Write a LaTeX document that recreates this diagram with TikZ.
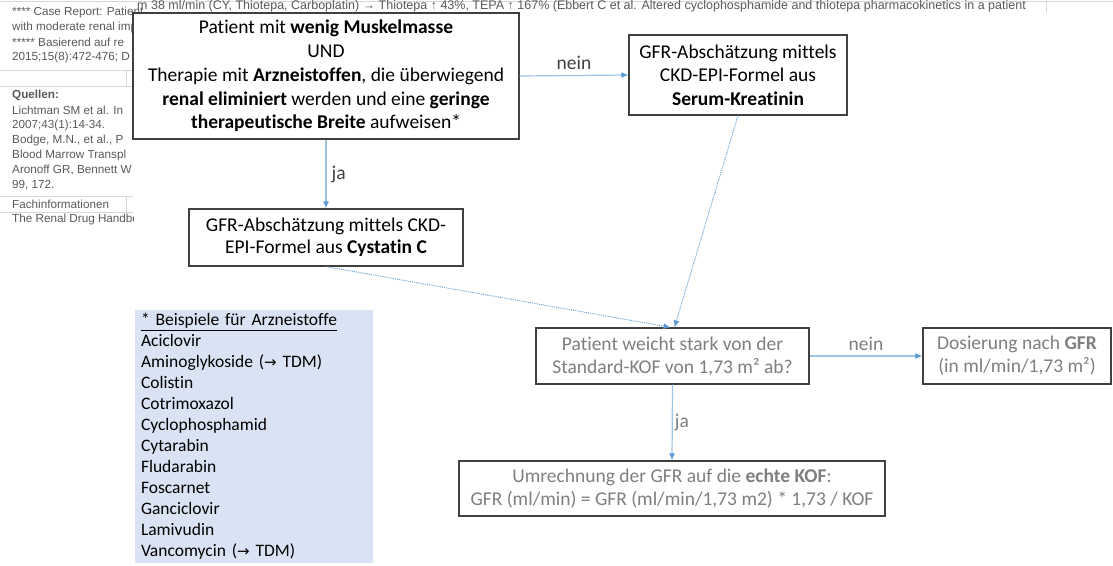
\documentclass[tikz,border=0pt]{standalone}
\usepackage{fontspec}
\setmainfont{Carlito}[Ligatures=NoCommon]
\newfontfamily\snipfont{Liberation Sans}
\newfontfamily\arrowfont{DejaVu Sans}
\usepackage{xcolor}
\usepackage{tikz}
\usetikzlibrary{arrows.meta}
\definecolor{boxgray}{HTML}{404040}
\definecolor{textgray}{HTML}{7F7F7F}
\definecolor{lineblue}{HTML}{9DC3E6}
\definecolor{tipblue}{HTML}{5B9BD5}
\definecolor{notefill}{HTML}{DAE3F3}
\definecolor{snipgray}{HTML}{5A5A5A}
\definecolor{gridgray}{HTML}{D6D6D6}
\tikzstyle{box} = [draw=boxgray,line width=1.3pt,fill=white,align=center,inner sep=0pt,font=\fontsize{19.5}{23.5}\selectfont]
\tikzstyle{pale} = [text=textgray]
\tikzstyle{flow} = [draw=lineblue,line width=1.2pt,-{Latex[length=7pt,width=6pt,color=tipblue]}]
\tikzstyle{guess} = [draw=tipblue,line width=0.9pt,densely dotted,-{Latex[length=7pt,width=6pt]}]
\tikzstyle{answer} = [font=\fontsize{19.5}{23.5}\selectfont,inner sep=2pt]
\tikzstyle{frag} = [anchor=west,inner sep=0pt,text=snipgray,font=\snipfont\fontsize{11.7}{14}\selectfont]

\begin{document}
\begin{tikzpicture}[x=1pt,y=-1pt]
            \fill[white] (0,0) rectangle (1113,565);
            \useasboundingbox (0,0) rectangle (1113,565);
            % table fragment behind the chart
            \begin{scope}
                \clip (0,0) rectangle (133,230) (133,0) rectangle (1113,14);
                \draw[gridgray] (0,1) -- (1113,1) (1046,0) -- (1046,12);
                \draw[gridgray] (0,70) -- (133,70) (0,86) -- (133,86) (126,70) -- (126,86);
                \draw[gridgray] (0,196) -- (133,196) (0,212) -- (133,212) (126,196) -- (126,212);
                \node[frag,font=\snipfont\fontsize{12.5}{14}\selectfont] (frag0) at (137,6.5) {m 38 ml/min (CY, Thiotepa, Carboplatin) → Thiotepa ↑ 43\%, TEPA ↑ 167\% (Ebbert C et al. Altered cyclophosphamide and thiotepa pharmacokinetics in a patient};
                \foreach \yy/\txt in {12/{**** Case Report: Patient},
                                      27/{with moderate renal impairment},
                                      42/{***** Basierend auf re},
                                      57/{2015;15(8):472-476; D},
                                      95/{\textbf{Quellen:}},
                                      110/{Lichtman SM et al. In},
                                      125/{2007;43(1):14-34.},
                                      140/{Bodge, M.N., et al., P},
                                      155/{Blood Marrow Transpl},
                                      170/{Aronoff GR, Bennett W},
                                      185/{99, 172.},
                                      204/{Fachinformationen},
                                      219/{The Renal Drug Handbook}}
                    \node[frag] (frag\yy) at (12,\yy) {\txt};
            \end{scope}
            % Step
            \draw (326,76) node[box,minimum width=386pt,minimum height=126pt,font=\fontsize{19.5}{23.7}\selectfont] (muscle) {Patient mit \textbf{wenig Muskelmasse}\\UND\\Therapie mit \textbf{Arzneistoffen}, die überwiegend\\\textbf{renal eliminiert} werden und eine \textbf{geringe}\\\textbf{therapeutische Breite} aufweisen*};
            \draw (738,75) node[box,minimum width=218pt,minimum height=80pt] (serum) {GFR-Abschätzung mittels\\CKD-EPI-Formel aus\\\textbf{Serum-Kreatinin}};
            \draw (326,237.5) node[box,minimum width=274pt,minimum height=57pt,font=\fontsize{19.5}{22.5}\selectfont] (cystatin) {GFR-Abschätzung mittels CKD-\\EPI-Formel aus \textbf{Cystatin C}};
            \draw (672.5,356) node[box,pale,minimum width=273pt,minimum height=56pt,font=\fontsize{19.5}{23}\selectfont] (kof) {Patient weicht stark von der\\Standard-KOF von 1,73 m² ab?};
            \draw (1017,356) node[box,pale,minimum width=188pt,minimum height=56pt,font=\fontsize{19.5}{23}\selectfont] (dose) {Dosierung nach \textbf{GFR}\\(in ml/min/1,73 m²)};
            \draw (672,488.5) node[box,pale,minimum width=426pt,minimum height=55pt,font=\fontsize{19.5}{23}\selectfont] (convert) {Umrechnung der GFR auf die \textbf{echte KOF}:\\GFR (ml/min) = GFR (ml/min/1,73 m2) * 1,73 / KOF};
            \draw (254,436.5) node[fill=notefill,minimum width=238pt,minimum height=251pt,text width=226pt,inner xsep=6pt,align=left,font=\fontsize{17.5}{21}\selectfont] (examples) {\underline{* Beispiele für Arzneistoffe}\\Aciclovir\\Aminoglykoside ({\arrowfont\fontsize{15}{21}\selectfont →} TDM)\\Colistin\\Cotrimoxazol\\Cyclophosphamid\\Cytarabin\\Fludarabin\\Foscarnet\\Ganciclovir\\Lamivudin\\Vancomycin ({\arrowfont\fontsize{15}{21}\selectfont →} TDM)};
            % edges
            \draw[flow] (muscle.east) -- node[answer,above=3pt,text=boxgray] (no1) {nein} (serum.west);
            \draw[flow] (muscle.south) -- node[answer,right=3pt,text=boxgray] (yes1) {ja} (cystatin.north);
            \draw[guess] (cystatin.south) -- ([xshift=-2pt]kof.north);
            \draw[guess] (serum.south) -- ([xshift=2pt]kof.north);
            \draw[flow] (kof.east) -- node[answer,above=3pt,pale] (no2) {nein} (dose.west);
            \draw[flow] (kof.south) -- node[answer,right=0pt,pale] (yes2) {ja} (convert.north);
        \end{tikzpicture}
\end{document}
